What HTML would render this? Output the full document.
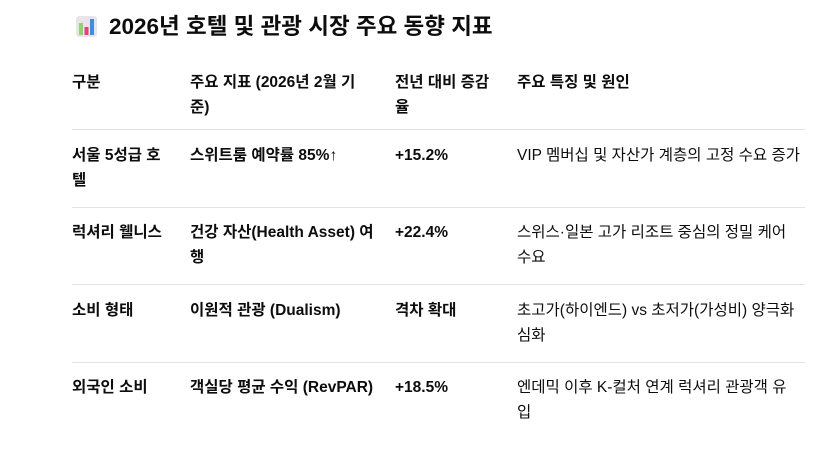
<!DOCTYPE html>
<html><head><meta charset="utf-8"><style>
body{margin:0;width:833px;height:460px;background:#fff;font-family:"Liberation Sans","Noto Sans CJK KR",sans-serif;color:#0d0d0d;position:relative;overflow:hidden}
.t{position:absolute;font-size:15.5px;line-height:25px;white-space:nowrap}
.b{font-weight:bold}
.hr{position:absolute;left:72px;width:733px;height:1px;background:#e3e3e3}
h1{position:absolute;left:109px;top:12px;margin:0;font-size:22.5px;font-weight:bold;line-height:30px;white-space:nowrap}
</style></head><body>
<svg style="position:absolute;left:76px;top:16px" width="21" height="21" viewBox="0 0 21 21">
<rect x="0" y="0" width="21" height="21" rx="3" fill="#e8e4ea"/>
<rect x="3" y="7" width="4" height="12" fill="#8fd66a"/>
<rect x="8.5" y="11" width="4" height="8" fill="#e5407a"/>
<rect x="14" y="3" width="4" height="16" fill="#3a8ee6"/>
</svg>
<h1>2026년 호텔 및 관광 시장 주요 동향 지표</h1>

<div class="t b" style="left:72px;top:70px">구분</div>
<div class="t b" style="left:190px;top:70px">주요 지표 (2026년 2월 기<br>준)</div>
<div class="t b" style="left:395px;top:70px">전년 대비 증감<br>율</div>
<div class="t b" style="left:517px;top:70px">주요 특징 및 원인</div>
<div class="hr" style="top:129px"></div>

<div class="t b" style="left:72px;top:143px">서울 5성급 호<br>텔</div>
<div class="t b" style="left:190px;top:143px">스위트룸 예약률 85%↑</div>
<div class="t b" style="left:395px;top:143px">+15.2%</div>
<div class="t" style="left:517px;top:143px">VIP 멤버십 및 자산가 계층의 고정 수요 증가</div>
<div class="hr" style="top:207px"></div>

<div class="t b" style="left:72px;top:220px">럭셔리 웰니스</div>
<div class="t b" style="left:190px;top:220px">건강 자산(Health Asset) 여<br>행</div>
<div class="t b" style="left:395px;top:220px">+22.4%</div>
<div class="t" style="left:517px;top:220px">스위스·일본 고가 리조트 중심의 정밀 케어<br>수요</div>
<div class="hr" style="top:284px"></div>

<div class="t b" style="left:72px;top:298px">소비 형태</div>
<div class="t b" style="left:190px;top:298px">이원적 관광 (Dualism)</div>
<div class="t b" style="left:395px;top:298px">격차 확대</div>
<div class="t" style="left:517px;top:298px">초고가(하이엔드) vs 초저가(가성비) 양극화<br>심화</div>
<div class="hr" style="top:362px"></div>

<div class="t b" style="left:72px;top:375px">외국인 소비</div>
<div class="t b" style="left:190px;top:375px">객실당 평균 수익 (RevPAR)</div>
<div class="t b" style="left:395px;top:375px">+18.5%</div>
<div class="t" style="left:517px;top:375px">엔데믹 이후 K-컬처 연계 럭셔리 관광객 유<br>입</div>
</body></html>
